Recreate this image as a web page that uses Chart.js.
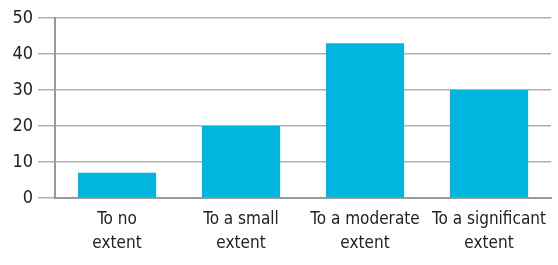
<!DOCTYPE html>
<html>
<head>
<meta charset="utf-8">
<script src="https://cdn.jsdelivr.net/npm/chart.js@4/dist/chart.umd.min.js"></script>
<style>
  html, body { margin: 0; padding: 0; background: #fff; }
  #wrap { width: 558px; height: 265px; }
</style>
</head>
<body>
<div id="wrap"><canvas id="chart"></canvas></div>
<script>
const categories = [['To no', 'extent'], ['To a small', 'extent'], ['To a moderate', 'extent'], ['To a significant', 'extent']];
const values = [7, 20, 43, 30];
const yTicks = [0, 10, 20, 30, 40, 50];

const fontFamily = '"Liberation Sans Narrow", "DejaVu Sans Condensed", "Liberation Sans", sans-serif';

const ctx = document.querySelector('#chart').getContext('2d');
const myChart = new Chart(ctx, {
    type: 'bar',
    data: {
        labels: categories,
        datasets: [{
            data: values,
            backgroundColor: '#00b5de',
            borderWidth: 0,
            barPercentage: 0.63,
            categoryPercentage: 1
        }]
    },
    options: {
        responsive: true,
        maintainAspectRatio: false,
        animation: false,
        layout: { padding: { top: 18, right: 7, left: 0, bottom: 0 } },
        plugins: { legend: { display: false }, tooltip: { enabled: false } },
        scales: {
            x: {
                grid: { display: false },
                border: { color: '#999', width: 2 },
                ticks: {
                    color: '#222',
                    font: { family: fontFamily, size: 17, lineHeight: 1.4 },
                    padding: 2,
                    maxRotation: 0,
                    autoSkip: false
                },
                afterFit: s => { s.height = 67; }
            },
            y: {
                min: 0,
                max: 50,
                afterBuildTicks: s => { s.ticks = yTicks.map(v => ({ value: v })); },
                grid: { color: '#b0b0b0', lineWidth: 1.5, tickLength: 17 },
                border: { color: '#999', width: 2 },
                ticks: {
                    color: '#222',
                    font: { family: fontFamily, size: 18 },
                    padding: 5
                },
                afterFit: s => { s.width = 55; }
            }
        }
    }
});
</script>
</body>
</html>
